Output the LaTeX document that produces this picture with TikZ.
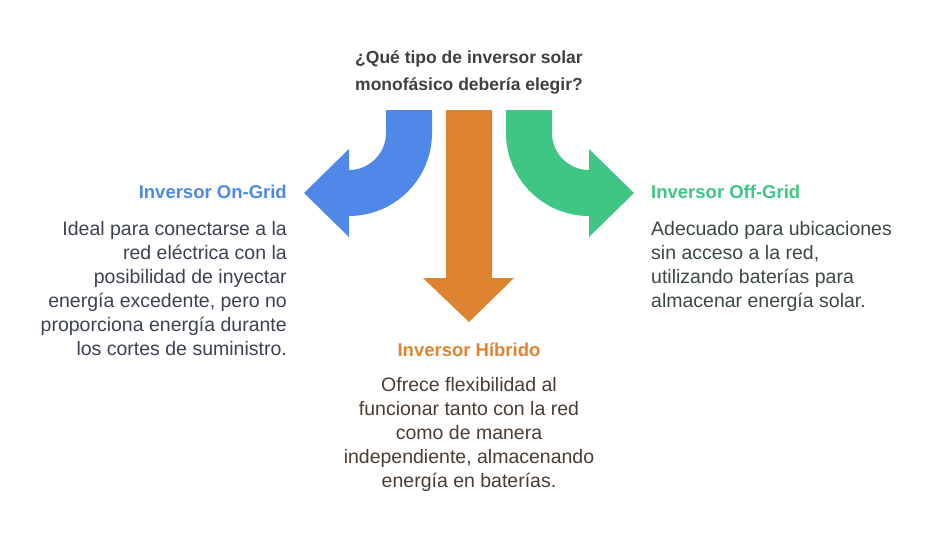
\documentclass[tikz,border=0pt]{standalone}
\usepackage{fontspec}
\setmainfont{Liberation Sans}
\definecolor{cblue}{HTML}{4F88E6}
\definecolor{corange}{HTML}{DE8431}
\definecolor{cgreen}{HTML}{3FC584}
\definecolor{ctitle}{HTML}{404040}
\definecolor{tblue}{HTML}{3B4352}
\definecolor{tgreen}{HTML}{3A4A42}
\definecolor{torange}{HTML}{4A3D32}
\begin{document}
\begin{tikzpicture}[x=1pt,y=-1pt,
  head/.style={font=\fontsize{18.5}{22}\selectfont\bfseries, inner sep=0pt},
  body/.style={font=\fontsize{19.5}{24}\selectfont, inner sep=0pt}]
\useasboundingbox[fill=white] (0,0) rectangle (938,542);
% arrows
\fill[cblue] (386,110) -- (432,110) -- (432,133) .. controls (432,178.8) and (394.8,216) .. (349,216) -- (349,237) -- (304,193) -- (349,149) -- (349,170) .. controls (369.4,170) and (386,153.4) .. (386,133) -- cycle;
\fill[cgreen] (552,110) -- (506,110) -- (506,133) .. controls (506,178.8) and (543.2,216) .. (589,216) -- (589,237) -- (634,193) -- (589,149) -- (589,170) .. controls (568.6,170) and (552,153.4) .. (552,133) -- cycle;
\fill[corange] (446,110) -- (492,110) -- (492,278) -- (514,278) -- (469,322) -- (423,278) -- (446,278) -- cycle;
% texts
\node[head, text=ctitle, align=center, font=\fontsize{17.5}{27}\selectfont\bfseries] (q) at (469,72) {¿Qué tipo de inversor solar\\monofásico debería elegir?};
\node[head, text=cblue, anchor=east] (ongrid) at (287,192) {Inversor On-Grid};
\node[body, text=tblue, anchor=north east, align=right] (ongridtxt) at (287,221) {Ideal para conectarse a la\\red eléctrica con la\\posibilidad de inyectar\\energía excedente, pero no\\proporciona energía durante\\los cortes de suministro.};
\node[head, text=cgreen, anchor=west] (offgrid) at (651,192) {Inversor Off-Grid};
\node[body, text=tgreen, anchor=north west, align=left] (offgridtxt) at (651,221) {Adecuado para ubicaciones\\sin acceso a la red,\\utilizando baterías para\\almacenar energía solar.};
\node[head, text=corange] (hib) at (469,350) {Inversor Híbrido};
\node[body, text=torange, anchor=north, align=center] (hibtxt) at (469,377) {Ofrece flexibilidad al\\funcionar tanto con la red\\como de manera\\independiente, almacenando\\energía en baterías.};
\end{tikzpicture}
\end{document}
